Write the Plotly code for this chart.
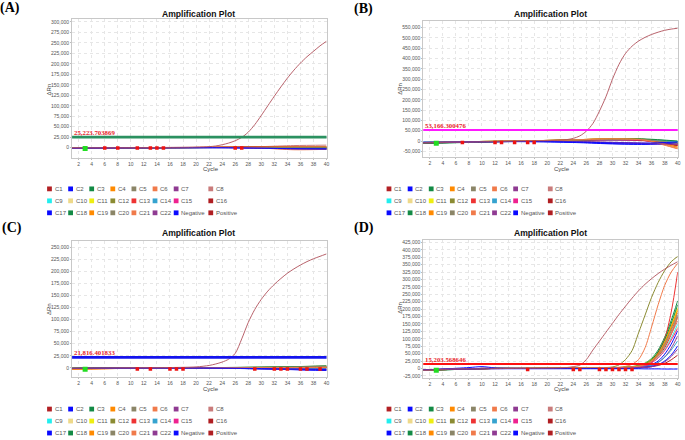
import numpy as np
import plotly.graph_objects as go

W, H = 685, 440

# ---------------- data ----------------
SERIES = ["C1", "C2", "C3", "C4", "C5", "C6", "C7", "C8",
          "C9", "C10", "C11", "C12", "C13", "C14", "C15", "C16",
          "C17", "C18", "C19", "C20", "C21", "C22", "Negative", "Positive"]
SERIES_COLORS = ["#b22024", "#0a0aff", "#138a45", "#ff8a00", "#8b8567", "#f07a4a", "#8f3b92", "#c97b7b",
                 "#22eeee", "#eed98a", "#eeee11", "#8b8b32", "#ee3333", "#35a3cf", "#ee2290", "#b01e22",
                 "#0a0aff", "#138a45", "#ff8a00", "#8b8567", "#f07a4a", "#8f3b92", "#0a0aff", "#b01e22"]
POSITIVE_LINE_COLOR = "#b0505a"

X_TICKS = [2, 4, 6, 8, 10, 12, 14, 16, 18, 20, 22, 24, 26, 28, 30, 32, 34, 36, 38, 40]

# baseline series (C1..C22, Negative), values in thousands of ΔRn
BASE_CYCLES = [1, 5, 10, 15, 20, 25, 30, 35, 40]

A_BASE = [
    [-1.5, -0.8, -0.3, 0, 0.3, 0.8, 1.2, 0.5, -0.5],
    [-1, -0.6, -0.2, 0.1, 0.2, 0.3, -0.5, -2, -3.5],
    [-1.2, -0.7, -0.2, 0, 0.3, 0.6, 0.5, 0, -1],
    [-0.8, -0.5, -0.1, 0.1, 0.4, 0.9, 1.5, 1, 0],
    [-1.3, -0.8, -0.3, 0, 0.2, 0.5, 0.8, 1, 1.5],
    [-0.9, -0.5, -0.2, 0.1, 0.4, 0.8, 1.2, 1.5, 2],
    [-1.5, -0.9, -0.4, -0.1, 0.1, 0.3, -0.8, -2.5, -3.5],
    [-1, -0.6, -0.2, 0.2, 0.5, 1.2, 2.5, 5, 6],
    [-0.7, -0.4, -0.1, 0.1, 0.2, 0.4, 0.3, -0.5, -1.5],
    [-1.1, -0.6, -0.2, 0.1, 0.3, 0.6, 0.9, 0.8, 0.5],
    [-0.9, -0.5, -0.1, 0.1, 0.3, 0.5, 0.7, 0.5, 0],
    [-1.2, -0.7, -0.3, 0, 0.2, 0.7, 1, 1.2, 0.8],
    [-1, -0.5, -0.1, 0.2, 0.4, 0.8, 0.6, -0.2, -1.5],
    [-0.8, -0.4, -0.1, 0, 0.2, 0.3, 0, -1, -2],
    [-1.4, -0.8, -0.3, 0, 0.3, 0.7, 1.5, 2, 2.5],
    [-1.3, -0.7, -0.2, 0.1, 0.4, 1, 1.8, 0.8, -0.5],
    [-1.1, -0.6, -0.2, 0, 0.1, 0, -1, -2.5, -3],
    [-1, -0.6, -0.2, 0.1, 0.3, 0.5, 0.4, 0, -0.5],
    [-0.9, -0.5, -0.1, 0.2, 0.5, 0.9, 1.3, 1.8, 2.2],
    [-1.2, -0.7, -0.2, 0, 0.3, 0.6, 0.7, 0.9, 1.2],
    [-0.8, -0.4, 0, 0.2, 0.4, 0.9, -1, -5, -4],
    [-1.6, -1, -0.4, -0.1, 0, -0.2, -1.5, -3, -4],
    [-1.5, -0.9, -0.4, -0.2, -0.1, -0.3, -1.2, -2.5, -3],
]

B_BASE = [
    [-8, -6, -3, -1, 2, 5, 8, 5, -15],
    [-6, -5, -3, -2, -3, -6, -12, -15, -12],
    [-12, -9, -5, -2, 1, 4, 8, 8, -2],
    [-7, -5, -2, 0, 3, 7, 12, 8, -25],
    [-8, -6, -3, 0, 3, 7, 11, 6, -20],
    [-7, -5, -2, 0, 3, 6, 10, 2, -38],
    [-9, -7, -4, -2, -1, -2, -6, -10, -18],
    [-8, -6, -3, -1, 2, 5, 7, 3, -30],
    [-6, -4, -2, 0, 1, 2, 3, 2, -5],
    [-7, -5, -2, 0, 3, 6, 9, 4, -35],
    [-7, -5, -2, 0, 2, 5, 8, 6, -10],
    [-8, -6, -3, 0, 3, 7, 10, 8, -8],
    [-8, -6, -3, -1, 2, 5, 6, 2, -20],
    [-6, -4, -2, 0, 1, 3, 4, 3, -3],
    [-8, -6, -3, -1, 1, 3, 5, 1, -15],
    [-9, -7, -3, -1, 2, 5, 7, 3, -22],
    [-7, -6, -4, -3, -4, -8, -14, -16, -10],
    [-11, -8, -4, -1, 2, 5, 9, 10, 0],
    [-7, -5, -2, 0, 3, 7, 11, 5, -30],
    [-8, -6, -3, 0, 3, 6, 9, 6, -12],
    [-7, -5, -2, 0, 2, 6, 10, 4, -36],
    [-9, -7, -4, -2, -1, -3, -8, -12, -16],
    [-6, -5, -3, -2, -3, -5, -9, -10, -5],
]

C_BASE = [
    [-1, -0.6, -0.2, 0, 0.2, 0.4, 0.5, 0.3, 0],
    [-1.2, -0.8, -0.4, -0.2, -0.3, -0.8, -2, -3.5, -5],
    [-0.8, -0.5, -0.1, 0.1, 0.3, 0.6, 1.2, 2.2, 3.5],
    [-3, -2, -1, -0.3, 0, 0.2, 0.4, 0.6, 0.8],
    [-1, -0.6, -0.2, 0, 0.3, 0.6, 1, 1.6, 2.5],
    [-2.5, -1.8, -0.8, -0.2, 0.1, 0.3, 0.5, 0.7, 1],
    [-1.3, -0.9, -0.5, -0.3, -0.4, -0.8, -1.6, -2.5, -3.5],
    [-1, -0.6, -0.2, 0, 0.2, 0.4, 0.6, 0.8, 1],
    [-0.8, -0.5, -0.2, 0, 0.1, 0.2, 0.2, 0.3, 0.5],
    [-1.1, -0.7, -0.3, 0, 0.2, 0.5, 0.8, 1.2, 1.8],
    [-0.9, -0.5, -0.2, 0, 0.2, 0.4, 0.7, 1, 1.5],
    [-1, -0.6, -0.2, 0.1, 0.4, 0.8, 1.4, 2.5, 4],
    [-1.2, -0.7, -0.3, 0, 0.1, 0.2, 0.1, -0.2, -0.5],
    [-0.9, -0.6, -0.3, -0.1, 0, 0, -0.3, -0.8, -1.5],
    [-1.1, -0.7, -0.3, 0, 0.1, 0.2, 0.3, 0.4, 0.5],
    [-1, -0.6, -0.2, 0, 0.2, 0.4, 0.6, 0.6, 0.5],
    [-1.3, -0.9, -0.5, -0.3, -0.5, -1, -2.2, -3.8, -5.5],
    [-0.9, -0.5, -0.1, 0.1, 0.4, 0.8, 1.5, 2.5, 3.8],
    [-2.8, -1.9, -0.9, -0.3, 0, 0.2, 0.4, 0.7, 1],
    [-1, -0.6, -0.2, 0, 0.3, 0.6, 1, 1.8, 2.8],
    [-2.2, -1.5, -0.7, -0.2, 0.1, 0.3, 0.5, 0.8, 1.2],
    [-1.4, -1, -0.6, -0.4, -0.5, -0.9, -1.8, -2.8, -3.8],
    [-1.2, -0.8, -0.5, -0.3, -0.4, -0.7, -1.5, -2.5, -3.2],
]

D_CYCLES = [1, 4, 8, 10, 12, 16, 20, 24, 28, 30, 31, 32, 33, 34, 35, 36, 37, 38, 39, 40]
D_BASE = [
    [-6, -4, -2, -1, 0, 0, 0, 0.5, 1, 1.5, 2, 3, 4.5, 7, 12, 22, 40, 70, 115, 175],
    [-4, -3, -1, 0, 0, 0, 0, 0, 0.5, 1, 1.5, 2, 3, 4, 7, 13, 25, 48, 82, 127],
    [-7, -5, -2, -1, 0, 0, 0.5, 1, 1.5, 2, 3, 4, 6, 10, 18, 34, 62, 105, 162, 228],
    [-5, -4, -2, -1, 0, 0, 0.5, 1, 1.5, 2, 2.5, 3.5, 5, 8, 15, 28, 52, 90, 142, 200],
    [-6, -4, -2, -1, 0, 0, 0, 0.5, 1, 1.5, 2, 3, 4.5, 7.5, 14, 26, 48, 84, 133, 188],
    [-5, -3, -1, 0, 0, 0, 0.5, 1, 2, 3, 4, 7, 14, 30, 70, 140, 215, 280, 325, 355],
    [-6, -4, -2, -1, -0.5, 0, 0, 0, 0, 0.5, 1, 1.5, 2, 3, 5, 10, 20, 38, 68, 110],
    [-5, -3, -1, 0, 0, 0, 0.5, 1, 1.5, 2, 2.5, 3.5, 5, 8, 14, 25, 44, 75, 115, 160],
    [-4, -3, -1, 0, 0, 0, 0, 0.5, 1, 1.5, 2, 3, 4, 6, 11, 20, 37, 64, 102, 149],
    [-5, -3, -1, 0, 0, 0, 0, 0.5, 1, 1.5, 2, 3, 4.5, 7, 12, 21, 37, 62, 98, 140],
    [-5, -3, -1, 0, 0, 0, 0.5, 1, 1.5, 2, 3, 4, 6, 9.5, 17, 31, 56, 95, 148, 205],
    [-6, -4, -2, -1, 0, 0, 0.5, 1, 2, 5, 12, 30, 60, 120, 180, 240, 290, 330, 360, 378],
    [-5, -3, -1, 0, 0, 0, 0.5, 1, 1.5, 2, 2.5, 3, 4, 5, 8, 20, 55, 100, 190, 325],
    [-4, -3, -1, 0, 0, 0, 0, 0, 0.5, 1, 1.5, 2, 2.5, 3.5, 6, 11, 21, 38, 62, 93],
    [-5, -3, -1, 0, 0, 0, 0, 0.5, 1, 1.5, 2, 2.5, 3.5, 5.5, 10, 19, 35, 60, 95, 135],
    [-6, -4, -2, -1, 0, 0, 0, 0, 0.5, 1, 1, 1.5, 2, 2.5, 3.5, 6, 10, 17, 29, 45],
    [-5, -2, 3, 6, 2, 0, 0, 0, 0, 0.5, 1, 1.5, 2, 2.5, 4, 7, 13, 25, 45, 76],
    [-7, -5, -2, -1, 0, 0, 0.5, 1, 1.5, 2, 3, 4, 5.5, 9, 16, 30, 56, 97, 152, 215],
    [-5, -4, -2, -1, 0, 0, 0.5, 1, 1.5, 2, 2.5, 3.5, 5, 8, 14, 27, 50, 87, 137, 195],
    [-6, -4, -2, -1, 0, 0, 0, 0.5, 1, 1.5, 2, 3, 4.5, 7, 13, 24, 45, 79, 126, 180],
    [-5, -3, -1, 0, 0, 0, 0.5, 1, 1.5, 2, 2.5, 3.5, 5, 7.5, 13, 24, 43, 75, 119, 170],
    [-6, -4, -2, -1, -0.5, 0, 0, 0, 0, 0.5, 1, 1.5, 2, 2.5, 3.5, 6, 12, 22, 40, 65],
    [-4, -3, -2, -1, -1, -1, -1, -1, -1, -1, -1, -1, -1, -1, -1.5, -1.5, -1.5, -2, -2, -2],
]

# positive control curves (thousands)
POS_CYCLES = [1, 5, 10, 15, 20, 22, 23, 24, 25, 26, 27, 28, 29, 30, 31, 32, 33, 34, 35, 36, 37, 38, 39, 40]
A_POS = [-1, -0.5, 0, 0.5, 1.5, 2.4, 4, 7, 11, 16.5, 24.5, 37, 55, 77, 100, 123, 145, 166, 185, 202, 217, 230, 243, 254]
B_POS = [-8, -6, -3, -1, 2, 4, 7, 13, 25, 48, 85, 145, 215, 300, 372, 425, 460, 485, 503, 517, 528, 537, 543, 547]
C_POS = [-1, -0.5, 0, 0.5, 2, 5, 8, 12, 18, 30, 60, 94, 121, 142, 159, 173, 185, 196, 205, 213, 220, 226, 231, 236]
D_POS = [-5, -3, -1, 0, 1, 2, 3, 6, 11, 30, 62, 92, 122, 152, 182, 210, 237, 262, 284, 303, 320, 335, 348, 360]

THRESHOLDS = [25223.703869, 53166.300476, 21816.401833, 15203.568646]
THRESHOLD_LABELS = ["25,223.703869", "53,166.300476", "21,816.401833", "15,203.568646"]
THRESHOLD_COLORS = ["#2b9160", "#ff18ff", "#1414ee", "#ff1010"]
THRESHOLD_WIDTHS = [2.6, 2, 2.8, 2]

# Ct markers (cycle, thousands)
A_CT_X = [6, 8, 11, 13, 14, 15, 26, 27]
A_CT_Y = [-1, -1, -1, -1, -1, -1, -1, -1]
B_CT_X = [7, 12, 13, 15, 17, 18]
B_CT_Y = [-7, -7, -7, -7, -7, -7]
C_CT_X = [11, 13, 16, 17, 18, 29, 32, 33, 34, 36, 37, 39]
C_CT_Y = [-2.5, -2.5, -2.5, -2.5, -2.5, -2.5, -2.5, -2.5, -2.5, -2.5, -2.5, -2.5]
D_CT_X = [17, 24, 25, 28, 29, 30, 31, 32, 33]
D_CT_Y = [-4, -4, -4, -4, -4, -4, -4, -4, -4]
START_X = [3, 3, 3, 3]
START_Y = [-2, -11, -3, -6]

# ---------------- layout helpers ----------------
def px_x(p):
    return p / W


def px_y(p):
    return 1 - p / H


PANELS = ["A", "B", "C", "D"]
BOXES = {"A": (72.4, 328.0, 18.0, 157.0), "B": (425.1, 680.7, 20.0, 156.7),
         "C": (72.4, 328.0, 240.7, 376.7), "D": (425.1, 680.7, 240.0, 378.3)}
Y_RANGES = {"A": (-23810, 307143), "B": (-79032, 582419), "C": (-18595, 262397), "D": (-33751, 431731)}
Y_DTICK = {"A": 25000, "B": 50000, "C": 25000, "D": 25000}
P_CYCLES = {"A": BASE_CYCLES, "B": BASE_CYCLES, "C": BASE_CYCLES, "D": D_CYCLES}
P_BASE = {"A": A_BASE, "B": B_BASE, "C": C_BASE, "D": D_BASE}
P_POS = {"A": A_POS, "B": B_POS, "C": C_POS, "D": D_POS}
P_CT = {"A": (A_CT_X, A_CT_Y), "B": (B_CT_X, B_CT_Y), "C": (C_CT_X, C_CT_Y), "D": (D_CT_X, D_CT_Y)}

TITLE_POS = {"A": (199.2, 13), "B": (552.5, 13), "C": (199.2, 233), "D": (552.5, 233)}
LABEL_POS = {"A": (10, 7), "B": (365.5, 8), "C": (12.5, 227.5), "D": (365.5, 228)}
YLAB_POS = {"A": (49.5, 88.5), "B": (401.7, 88), "C": (49.5, 308.5), "D": (401.7, 307.5)}
XLAB_POS = {"A": (212, 168.5), "B": (564, 168.5), "C": (212, 388.5), "D": (564, 388.5)}
LEG_ORIGIN = {"A": (47.3, 188.3), "B": (388.3, 188.3), "C": (47.3, 409), "D": (388.3, 409)}
LEG_COLS = [0, 21.2, 42.4, 63.6, 84.8, 106.0, 127.2, 162.0]

SANS = "Liberation Sans, Arial, sans-serif"
SERIF = "Liberation Serif, Times New Roman, serif"

fig = go.Figure()
layout_axes = {}

for i, key in enumerate(PANELS):
    n = "" if i == 0 else str(i + 1)
    xa, ya = "x" + n, "y" + n
    l, r, t, b = BOXES[key]
    y0, y1 = Y_RANGES[key]
    dt = Y_DTICK[key]
    yt = [v for v in range(-4 * dt, int(y1) + 1, dt) if v >= y0]

    common = dict(showgrid=True, gridcolor="#e6e6e6", griddash="dot", gridwidth=1,
                  zeroline=False, showline=True, linecolor="#c8c8c8", linewidth=1, mirror=True,
                  ticks="outside", ticklen=1, tickcolor="#bbbbbb",
                  tickfont=dict(family=SANS, size=5, color="#555555"))
    layout_axes["xaxis" + n] = dict(common, domain=[px_x(l), px_x(r)], range=[1, 40],
                                    tickvals=X_TICKS, ticktext=[str(v) for v in X_TICKS], anchor=ya)
    layout_axes["yaxis" + n] = dict(common, domain=[px_y(b), px_y(t)], range=[y0, y1],
                                    tickvals=yt, ticktext=[f"{v:,}" for v in yt], anchor=xa)

    cyc = P_CYCLES[key]
    for name, color, vals in zip(SERIES[:-1], SERIES_COLORS[:-1], P_BASE[key]):
        fig.add_trace(go.Scatter(x=cyc, y=np.array(vals) * 1000, mode="lines", name=name,
                                 line=dict(color=color, width=1, shape="spline", smoothing=0.8),
                                 xaxis=xa, yaxis=ya, hoverinfo="skip", showlegend=False))
    fig.add_trace(go.Scatter(x=POS_CYCLES, y=np.array(P_POS[key]) * 1000, mode="lines", name="Positive",
                             line=dict(color=POSITIVE_LINE_COLOR, width=0.9, shape="spline", smoothing=0.8),
                             xaxis=xa, yaxis=ya, hoverinfo="skip", showlegend=False))

    # threshold
    fig.add_shape(type="line", xref=xa + " domain", x0=0, x1=1, yref=ya,
                  y0=THRESHOLDS[i], y1=THRESHOLDS[i],
                  line=dict(color=THRESHOLD_COLORS[i], width=THRESHOLD_WIDTHS[i]))
    fig.add_annotation(xref=xa, yref=ya, x=1, y=THRESHOLDS[i], text="<b>" + THRESHOLD_LABELS[i] + "</b>",
                       xanchor="left", yanchor="bottom", showarrow=False, borderpad=0, xshift=1,
                       font=dict(family=SERIF, size=6.8, color="#e8242a"))

    # markers
    cx, cy = P_CT[key]
    fig.add_trace(go.Scatter(x=cx, y=np.array(cy) * 1000, mode="markers",
                             marker=dict(symbol="square", size=3.5, color="#ee1111"),
                             xaxis=xa, yaxis=ya, hoverinfo="skip", showlegend=False))
    fig.add_trace(go.Scatter(x=[START_X[i]], y=[START_Y[i] * 1000], mode="markers",
                             marker=dict(symbol="square", size=5, color="#22dd22"),
                             xaxis=xa, yaxis=ya, hoverinfo="skip", showlegend=False))

    # texts
    tx, ty = TITLE_POS[key]
    fig.add_annotation(xref="paper", yref="paper", x=px_x(tx), y=px_y(ty), text="<b>Amplification Plot</b>",
                       showarrow=False, xanchor="center", yanchor="middle", borderpad=0,
                       font=dict(family=SANS, size=8.6, color="#111111"))
    lx, ly = LABEL_POS[key]
    fig.add_annotation(xref="paper", yref="paper", x=px_x(lx), y=px_y(ly), text="<b>(" + key + ")</b>",
                       showarrow=False, xanchor="center", yanchor="middle", borderpad=0,
                       font=dict(family=SERIF, size=14, color="#000000"))
    yx, yy = YLAB_POS[key]
    fig.add_annotation(xref="paper", yref="paper", x=px_x(yx), y=px_y(yy), text="ΔRn", textangle=-90,
                       showarrow=False, xanchor="center", yanchor="middle", borderpad=0,
                       font=dict(family=SANS, size=6, color="#444444"))
    cxp, cyp = XLAB_POS[key]
    fig.add_annotation(xref="paper", yref="paper", x=px_x(cxp), y=px_y(cyp), text="Cycle",
                       showarrow=False, xanchor="center", yanchor="middle", borderpad=0,
                       font=dict(family=SANS, size=6, color="#444444"))

    # legend (manual grid)
    ox, oy = LEG_ORIGIN[key]
    for k, (name, color) in enumerate(zip(SERIES, SERIES_COLORS)):
        row, col = divmod(k, 8)
        x0 = ox + LEG_COLS[col]
        yc = oy + row * 12
        fig.add_shape(type="rect", xref="paper", yref="paper",
                      x0=px_x(x0), x1=px_x(x0 + 4.8), y0=px_y(yc + 2.4), y1=px_y(yc - 2.4),
                      fillcolor=color, line=dict(width=0))
        fig.add_annotation(xref="paper", yref="paper", x=px_x(x0 + 6.6), y=px_y(yc), text=name,
                           showarrow=False, xanchor="left", yanchor="middle", borderpad=0,
                           font=dict(family=SANS, size=6, color="#555555"))

fig.update_layout(width=W, height=H, margin=dict(l=0, r=0, t=0, b=0),
                  paper_bgcolor="white", plot_bgcolor="white", showlegend=False,
                  **layout_axes)

fig.write_html("out.html")
